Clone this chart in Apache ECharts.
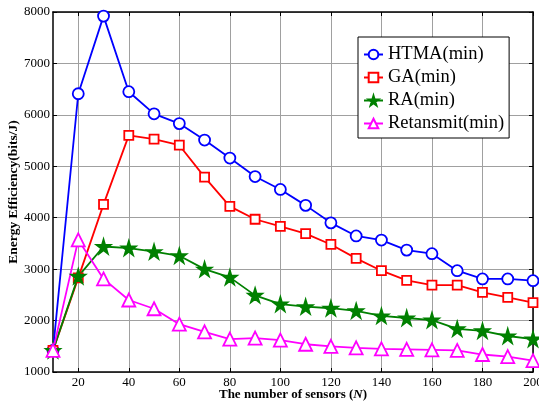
<!DOCTYPE html>
<html>
<head>
<meta charset="utf-8">
<script src="https://cdn.jsdelivr.net/npm/echarts@6/dist/echarts.min.js"></script>
<style>
html,body{margin:0;padding:0;background:#fff;}
#chart{width:539px;height:404px;}
</style>
</head>
<body>
<div id="chart"></div>
<script>
var sensors = [10,20,30,40,50,60,70,80,90,100,110,120,130,140,150,160,170,180,190,200];
var htma = [1420,6410,7920,6450,6020,5830,5510,5160,4800,4550,4240,3900,3645,3565,3370,3300,2970,2810,2810,2775];
var ga = [1420,2830,4260,5600,5530,5410,4790,4220,3970,3830,3690,3480,3210,2970,2780,2690,2690,2550,2450,2350];
var ra = [1420,2860,3440,3410,3340,3260,3000,2840,2490,2320,2270,2240,2190,2090,2050,2010,1840,1800,1700,1640];
var retransmit = [1420,3570,2810,2400,2230,1930,1780,1640,1660,1620,1540,1500,1470,1450,1440,1430,1420,1340,1300,1220];
var yTicks = [1000,2000,3000,4000,5000,6000,7000,8000];

var FONT = 'Liberation Serif';
var starPath = 'path://M50,0 L61,35 L98,35 L68,57 L79,91 L50,70 L21,91 L32,57 L2,35 L39,35 Z';
var showEvery20 = function (index) { return index % 2 === 1; };

var chart = echarts.init(document.getElementById('chart'), null, {renderer: 'canvas'});

function series(name, data, color, symbol, size, fill) {
  return {
    name: name,
    type: 'line',
    data: data,
    symbol: symbol,
    symbolSize: size,
    showAllSymbol: true,
    lineStyle: {color: color, width: 1.8},
    itemStyle: {color: fill || '#fff', borderColor: color, borderWidth: 1.8},
    emphasis: {disabled: true},
    animation: false
  };
}

chart.setOption({
  animation: false,
  backgroundColor: '#fff',
  grid: {left: 53, top: 12, right: 6, bottom: 32, containLabel: false, outerBoundsMode: 'none'},
  legend: {
    orient: 'vertical',
    left: 358,
    top: 37,
    backgroundColor: '#fff',
    borderColor: '#000',
    borderWidth: 1,
    borderRadius: 0,
    padding: [8, 5, 5, 5],
    itemWidth: 19,
    itemHeight: 12,
    itemGap: 4,
    textStyle: {fontFamily: FONT, fontSize: 18.5, color: '#000', lineHeight: 19},
    data: ['HTMA(min)', 'GA(min)', 'RA(min)', 'Retansmit(min)']
  },
  xAxis: [{
    type: 'category',
    data: sensors,
    boundaryGap: false,
    position: 'bottom',
    name: '{b|The number of sensors (}{i|N}{b|)}',
    nameLocation: 'middle',
    nameGap: 16,
    nameMoveOverlap: false,
    nameTextStyle: {
      rich: {
        b: {fontFamily: FONT, fontWeight: 'bold', fontSize: 13, color: '#000'},
        i: {fontFamily: FONT, fontWeight: 'bold', fontStyle: 'italic', fontSize: 13, color: '#000'}
      }
    },
    axisLine: {show: true, lineStyle: {color: '#000', width: 1.5}},
    axisTick: {show: true, inside: true, length: 4, interval: showEvery20, lineStyle: {color: '#000'}},
    axisLabel: {interval: showEvery20, fontFamily: FONT, fontSize: 13, color: '#000', margin: 4},
    splitLine: {show: true, interval: showEvery20, lineStyle: {color: '#a0a0a0', width: 1}}
  }, {
    type: 'category',
    data: sensors,
    boundaryGap: false,
    position: 'top',
    axisLine: {show: true, lineStyle: {color: '#000', width: 1.5}},
    axisTick: {show: true, inside: true, length: 4, interval: showEvery20, lineStyle: {color: '#000'}},
    axisLabel: {show: false},
    splitLine: {show: false}
  }],
  yAxis: [{
    type: 'value',
    min: yTicks[0],
    max: yTicks[yTicks.length - 1],
    interval: 1000,
    position: 'left',
    name: 'Energy Efficiency(bits/J)',
    nameLocation: 'middle',
    nameGap: 32,
    nameMoveOverlap: false,
    nameTextStyle: {fontFamily: FONT, fontWeight: 'bold', fontSize: 13.5, color: '#000'},
    axisLine: {show: true, lineStyle: {color: '#000', width: 1.5}},
    axisTick: {show: true, inside: true, length: 4, lineStyle: {color: '#000'}},
    axisLabel: {fontFamily: FONT, fontSize: 13, color: '#000', margin: 3, formatter: function (v) { return String(v); }},
    splitLine: {show: true, lineStyle: {color: '#a0a0a0', width: 1}}
  }, {
    type: 'value',
    min: yTicks[0],
    max: yTicks[yTicks.length - 1],
    interval: 1000,
    position: 'right',
    axisLine: {show: true, lineStyle: {color: '#000', width: 1.5}},
    axisTick: {show: true, inside: true, length: 4, lineStyle: {color: '#000'}},
    axisLabel: {show: false},
    splitLine: {show: false}
  }],
  series: [
    series('HTMA(min)', htma, '#0000ff', 'circle', 11),
    series('GA(min)', ga, '#ff0000', 'rect', 9),
    series('RA(min)', ra, '#008000', starPath, 14, '#008000'),
    series('Retansmit(min)', retransmit, '#ff00ff', 'triangle', 13)
  ]
});
</script>
</body>
</html>
